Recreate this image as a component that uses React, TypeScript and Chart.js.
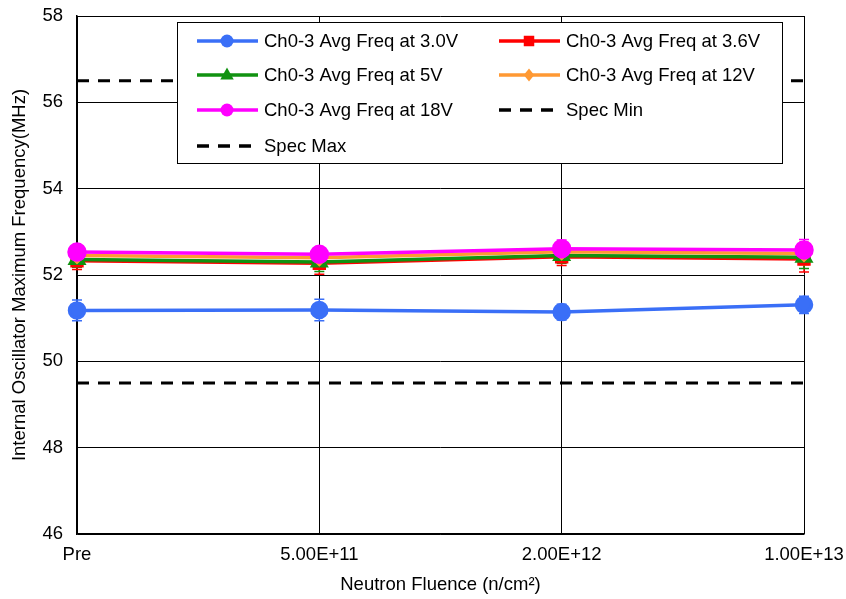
import React, { useEffect, useRef } from "react";
import { Chart, registerables } from "chart.js";

Chart.register(...registerables);

// Fluence steps along the x axis
const categories = ["Pre", "5.00E+11", "2.00E+12", "1.00E+13"];

// Average maximum frequency of channels 0-3 (MHz) per supply voltage
const freq30V = [51.18, 51.19, 51.14, 51.31];
const freq36V = [52.33, 52.27, 52.42, 52.37];
const freq5V = [52.36, 52.3, 52.45, 52.41];
const freq12V = [52.45, 52.4, 52.54, 52.5];
const freq18V = [52.53, 52.48, 52.61, 52.58];

// Standard deviation (MHz) for the error bars
const err30V = [0.24, 0.25, 0.18, 0.2];
const err36V = [0.2, 0.25, 0.2, 0.3];
const err5V = [0.18, 0.22, 0.18, 0.26];
const err12V = [0.18, 0.2, 0.18, 0.26];
const err18V = [0.15, 0.15, 0.2, 0.24];

// Specification limits (MHz)
const specMin = 49.5;
const specMax = 56.5;

// Y axis range
const yMin = 46;
const yMax = 58;
const yStep = 2;

const FONT = "'Liberation Sans', Arial, sans-serif";
const FONT_SIZE = 18.5;

function drawMarker(ctx: CanvasRenderingContext2D, style: string, x: number, y: number, r: number, color: string) {
  ctx.save();
  ctx.fillStyle = color;
  ctx.beginPath();
  if (style === "circle") {
    ctx.arc(x, y, r, 0, Math.PI * 2);
  } else if (style === "rect") {
    ctx.rect(x - r * 0.75, y - r * 0.75, r * 1.5, r * 1.5);
  } else if (style === "triangle") {
    ctx.moveTo(x, y - r);
    ctx.lineTo(x + r * 0.9, y + r * 0.6);
    ctx.lineTo(x - r * 0.9, y + r * 0.6);
    ctx.closePath();
  } else if (style === "rectRot") {
    ctx.moveTo(x, y - r);
    ctx.lineTo(x + r * 0.8, y);
    ctx.lineTo(x, y + r);
    ctx.lineTo(x - r * 0.8, y);
    ctx.closePath();
  }
  ctx.fill();
  ctx.restore();
}

const errorBarPlugin = {
  id: "errorBars",
  beforeDatasetsDraw(chart: any) {
    const ctx = chart.ctx as CanvasRenderingContext2D;
    const yScale = chart.scales.y;
    chart.data.datasets.forEach((ds: any, i: number) => {
      if (!ds.errors) return;
      const meta = chart.getDatasetMeta(i);
      ctx.save();
      ctx.strokeStyle = ds.borderColor;
      ctx.lineWidth = 1.5;
      meta.data.forEach((pt: any, j: number) => {
        const v = ds.data[j];
        const e = ds.errors[j];
        const top = yScale.getPixelForValue(v + e);
        const bot = yScale.getPixelForValue(v - e);
        ctx.beginPath();
        ctx.moveTo(pt.x, top);
        ctx.lineTo(pt.x, bot);
        ctx.moveTo(pt.x - 5, top);
        ctx.lineTo(pt.x + 5, top);
        ctx.moveTo(pt.x - 5, bot);
        ctx.lineTo(pt.x + 5, bot);
        ctx.stroke();
      });
      ctx.restore();
    });
  },
};

const boxLegendPlugin = {
  id: "boxLegend",
  afterDraw(chart: any) {
    const ctx = chart.ctx as CanvasRenderingContext2D;
    const area = chart.chartArea;
    const left = area.left + 100;
    const top = area.top + 6;
    const width = 605;
    const height = 141;
    ctx.save();
    ctx.fillStyle = "#ffffff";
    ctx.fillRect(left, top, width, height);
    ctx.strokeStyle = "#000000";
    ctx.lineWidth = 1;
    ctx.strokeRect(left + 0.5, top + 0.5, width, height);

    const rowY = [19, 53, 88, 124];
    const colX = [20, 322];
    ctx.font = `${FONT_SIZE}px ${FONT}`;
    ctx.textBaseline = "middle";
    ctx.textAlign = "left";
    chart.data.datasets.forEach((ds: any, i: number) => {
      const col = i % 2;
      const row = Math.floor(i / 2);
      const x0 = left + colX[col];
      const y = top + rowY[row];
      ctx.save();
      ctx.strokeStyle = ds.borderColor;
      ctx.lineWidth = 3.5;
      ctx.setLineDash(ds.borderDash || []);
      ctx.beginPath();
      ctx.moveTo(x0, y);
      ctx.lineTo(x0 + 61, y);
      ctx.stroke();
      ctx.restore();
      if (ds.pointRadius > 0) {
        drawMarker(ctx, ds.pointStyle, x0 + 30, y, ds.legendRadius, ds.borderColor);
      }
      ctx.fillStyle = "#000000";
      ctx.fillText(ds.label, x0 + 67, y + 1);
    });
    ctx.restore();
  },
};

function series(label: string, data: number[], errors: number[], color: string, pointStyle: string, radius: number, legendRadius: number, order: number) {
  return {
    label,
    data,
    errors,
    borderColor: color,
    backgroundColor: color,
    pointBackgroundColor: color,
    pointBorderColor: color,
    borderWidth: 3.5,
    pointStyle,
    pointRadius: radius,
    pointHoverRadius: radius,
    legendRadius,
    tension: 0,
    order,
  };
}

function specLine(label: string, value: number) {
  return {
    label,
    data: categories.map(() => value),
    borderColor: "#000000",
    backgroundColor: "#000000",
    borderWidth: 3,
    borderDash: [12, 9],
    pointRadius: 0,
    order: 0,
  };
}

export default function App() {
  const canvasRef = useRef<HTMLCanvasElement | null>(null);

  useEffect(() => {
    const canvas = canvasRef.current;
    if (!canvas) return;
    const chart = new Chart(canvas, {
      type: "line",
      data: {
        labels: categories,
        datasets: [
          series("Ch0-3 Avg Freq at 3.0V", freq30V, err30V, "#3a6ff7", "circle", 7.5, 6.5, 5),
          series("Ch0-3 Avg Freq at 3.6V", freq36V, err36V, "#ff0000", "rect", 7, 7, 4),
          series("Ch0-3 Avg Freq at 5V", freq5V, err5V, "#119211", "triangle", 7.5, 7.5, 3),
          series("Ch0-3 Avg Freq at 12V", freq12V, err12V, "#ff9933", "rectRot", 6.5, 6.5, 2),
          series("Ch0-3 Avg Freq at 18V", freq18V, err18V, "#ff00ff", "circle", 8, 6.5, 1),
          specLine("Spec Min", specMin),
          specLine("Spec Max", specMax),
        ] as any,
      },
      options: {
        animation: false,
        responsive: false,
        maintainAspectRatio: false,
        layout: { padding: { top: 16, right: 42, left: 0, bottom: 0 } },
        plugins: {
          legend: { display: false },
          tooltip: { enabled: false },
        },
        scales: {
          x: {
            type: "category",
            offset: false,
            afterFit: (scale: any) => {
              scale.height = 65;
              scale.paddingLeft = 0;
              scale.paddingRight = 0;
            },
            grid: { color: "#000000", lineWidth: 1, drawTicks: false },
            border: { color: "#000000", width: 1.5 },
            ticks: {
              color: "#000000",
              padding: 10,
              maxRotation: 0,
              autoSkip: false,
              font: { family: FONT, size: FONT_SIZE },
            },
            title: {
              display: true,
              text: "Neutron Fluence (n/cm²)",
              color: "#000000",
              padding: { top: 0, bottom: 3 },
              font: { family: FONT, size: FONT_SIZE },
            },
          },
          y: {
            min: yMin,
            max: yMax,
            afterFit: (scale: any) => {
              scale.width = 77;
              scale.paddingTop = 0;
              scale.paddingBottom = 0;
            },
            grid: { color: "#000000", lineWidth: 1, drawTicks: false },
            border: { color: "#000000", width: 1.5 },
            ticks: {
              stepSize: yStep,
              color: "#000000",
              padding: 14,
              font: { family: FONT, size: FONT_SIZE },
            },
            title: {
              display: true,
              text: "Internal Oscillator Maximum Frequency(MHz)",
              color: "#000000",
              padding: { top: 9, bottom: 0 },
              font: { family: FONT, size: FONT_SIZE },
            },
          },
        },
      },
      plugins: [errorBarPlugin, boxLegendPlugin],
    } as any);
    return () => chart.destroy();
  }, []);

  return (
    <div style={{ position: "fixed", left: 0, top: 0, width: 846, height: 599, background: "#ffffff" }}>
      <canvas ref={canvasRef} width={846} height={599} style={{ width: 846, height: 599 }} />
    </div>
  );
}
